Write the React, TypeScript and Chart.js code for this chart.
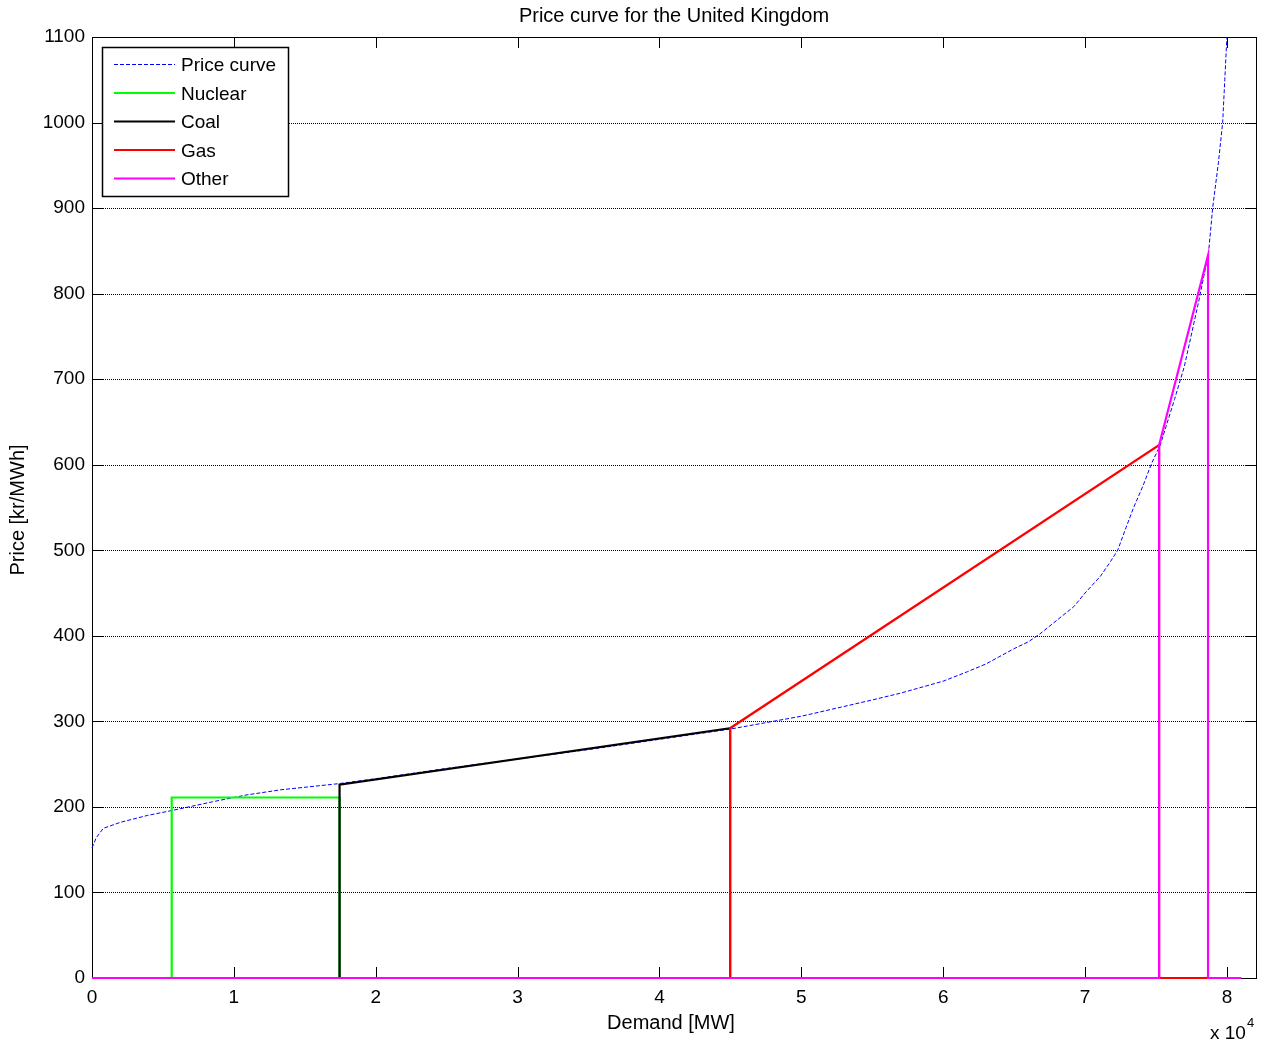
import React, { useEffect, useRef } from "react";
import { Chart, registerables } from "chart.js";

Chart.register(...registerables);

// ---- Data ----
const priceCurveX = [0, 300, 800, 2000, 3900, 5700, 8500, 10900, 13300, 17300, 20000, 25000, 30000, 35000, 40000, 45000, 50000, 55000, 57000, 60000, 61700, 63000, 64000, 65000, 66000, 66800, 68000, 69200, 70000, 71100, 71800, 72300, 72900, 73400, 74100, 74700, 75300, 76300, 77000, 78000, 78700, 79000, 79400, 79700, 79850, 80000, 80300];
const priceCurveY = [152, 164, 175, 182, 190, 196, 206, 214, 220, 227, 233, 245, 256, 267, 279, 291, 306, 325, 333, 347, 358, 367, 376, 385, 393, 402, 418, 434, 450, 470, 487, 500, 527, 549, 576, 602, 623, 676, 715, 790, 847, 901, 953, 1000, 1050, 1100, 1200];

const nuclearX = [0, 5620, 5620, 17450, 17450, 81000];
const nuclearY = [0, 0, 211, 211, 0, 0];
const coalX = [0, 17450, 17450, 44980, 44980, 81000];
const coalY = [0, 0, 226, 292, 0, 0];
const gasX = [0, 44980, 44980, 75220, 75220, 81000];
const gasY = [0, 0, 292, 623, 0, 0];
const otherX = [0, 75220, 75220, 78670, 78670, 81000];
const otherY = [0, 0, 623, 845, 0, 0];

const xTicks = [0, 10000, 20000, 30000, 40000, 50000, 60000, 70000, 80000];
const yTicks = [0, 100, 200, 300, 400, 500, 600, 700, 800, 900, 1000, 1100];

const legendLabels = ["Price curve", "Nuclear", "Coal", "Gas", "Other"];
const legendColors = ["#0000ff", "#00ff00", "#000000", "#ff0000", "#ff00ff"];

const FONT = "'Liberation Sans', Arial, Helvetica, sans-serif";

const toPts = (xs: number[], ys: number[]) => xs.map((x, i) => ({ x, y: ys[i] }));

const matlabPlugin = {
  id: "matlabDecor",
  beforeDatasetsDraw(chart: any) {
    const { ctx, chartArea, scales } = chart;
    const { left, right, top, bottom } = chartArea;
    const x = scales.x;
    const y = scales.y;
    const tickLen = 11;
    ctx.save();
    ctx.strokeStyle = "#000";
    ctx.lineWidth = 1;
    ctx.setLineDash([1, 1]);
    yTicks.forEach((v) => {
      const py = Math.round(y.getPixelForValue(v)) + 0.5;
      ctx.beginPath();
      ctx.moveTo(left + tickLen, py);
      ctx.lineTo(right - tickLen, py);
      ctx.stroke();
    });
    ctx.setLineDash([]);
    ctx.lineWidth = 1;
    ctx.strokeRect(Math.round(left) + 0.5, Math.round(top) + 0.5, Math.round(right - left), Math.round(bottom - top));
    ctx.beginPath();
    xTicks.forEach((v) => {
      const px = Math.round(x.getPixelForValue(v)) + 0.5;
      ctx.moveTo(px, bottom);
      ctx.lineTo(px, bottom - tickLen);
      ctx.moveTo(px, top);
      ctx.lineTo(px, top + tickLen);
    });
    yTicks.forEach((v) => {
      const py = Math.round(y.getPixelForValue(v)) + 0.5;
      ctx.moveTo(left, py);
      ctx.lineTo(left + tickLen, py);
      ctx.moveTo(right, py);
      ctx.lineTo(right - tickLen, py);
    });
    ctx.stroke();
    ctx.restore();
  },
  afterDatasetsDraw(chart: any) {
    const { ctx } = chart;
    ctx.save();
    const bx = 102.5, by = 47.5, bw = 186, bh = 149;
    ctx.fillStyle = "#fff";
    ctx.fillRect(bx, by, bw, bh);
    ctx.strokeStyle = "#000";
    ctx.lineWidth = 1.5;
    ctx.strokeRect(bx, by, bw, bh);
    const rows = [64.5, 93, 121.5, 150, 178.5];
    ctx.font = `19px ${FONT}`;
    ctx.textBaseline = "middle";
    ctx.textAlign = "left";
    legendLabels.forEach((lab, i) => {
      ctx.beginPath();
      ctx.strokeStyle = legendColors[i];
      if (i === 0) {
        ctx.lineWidth = 1;
        ctx.setLineDash([4, 2]);
      } else {
        ctx.lineWidth = 2.2;
        ctx.setLineDash([]);
      }
      ctx.moveTo(114, rows[i]);
      ctx.lineTo(175, rows[i]);
      ctx.stroke();
      ctx.setLineDash([]);
      ctx.fillStyle = "#000";
      ctx.fillText(lab, 181, rows[i] + 1.5);
    });
    ctx.fillStyle = "#000";
    ctx.font = `20px ${FONT}`;
    ctx.textAlign = "center";
    ctx.textBaseline = "alphabetic";
    ctx.fillText("Price curve for the United Kingdom", 674, 22);
    ctx.fillText("Demand [MW]", 671, 1029);
    ctx.save();
    ctx.translate(24, 510);
    ctx.rotate(-Math.PI / 2);
    ctx.fillText("Price [kr/MWh]", 0, 0);
    ctx.restore();
    ctx.textAlign = "left";
    ctx.font = `19px ${FONT}`;
    ctx.fillText("x 10", 1210, 1039);
    ctx.font = `13px ${FONT}`;
    ctx.fillText("4", 1247, 1027);
    ctx.restore();
  },
};

const fuelClip = { left: 2, top: 0, right: 2, bottom: 2 };

export default function App() {
  const ref = useRef<HTMLCanvasElement | null>(null);
  useEffect(() => {
    if (!ref.current) return;
    const chart = new Chart(ref.current, {
      type: "line",
      data: {
        datasets: [
          { label: "Price curve", data: toPts(priceCurveX, priceCurveY), borderColor: "#0000ff", borderWidth: 1, borderDash: [4, 2], pointRadius: 0, fill: false, tension: 0, order: 5, clip: { left: 1, top: 0, right: 1, bottom: 1 } },
          { label: "Nuclear", data: toPts(nuclearX, nuclearY), borderColor: "#00ff00", borderWidth: 2.2, pointRadius: 0, fill: false, tension: 0, order: 4, clip: fuelClip },
          { label: "Coal", data: toPts(coalX, coalY), borderColor: "#000000", borderWidth: 2.2, pointRadius: 0, fill: false, tension: 0, order: 3, clip: fuelClip },
          { label: "Gas", data: toPts(gasX, gasY), borderColor: "#ff0000", borderWidth: 2.2, pointRadius: 0, fill: false, tension: 0, order: 2, clip: fuelClip },
          { label: "Other", data: toPts(otherX, otherY), borderColor: "#ff00ff", borderWidth: 2.2, pointRadius: 0, fill: false, tension: 0, order: 1, clip: fuelClip },
        ],
      },
      options: {
        animation: false,
        responsive: false,
        maintainAspectRatio: false,
        layout: { padding: { top: 37, right: 8, left: 0, bottom: 0 } },
        plugins: { legend: { display: false }, title: { display: false }, tooltip: { enabled: false } },
        events: [],
        scales: {
          x: {
            type: "linear",
            min: 0,
            max: 82050,
            grid: { display: false, drawTicks: false },
            border: { display: false },
            afterBuildTicks: (s: any) => { s.ticks = xTicks.map((v) => ({ value: v })); },
            afterFit: (s: any) => { s.height = 66; },
            ticks: {
              autoSkip: false,
              maxRotation: 0,
              padding: 8,
              color: "#000",
              font: { family: FONT, size: 19 },
              callback: (v: any) => String(Number(v) / 10000),
            },
          },
          y: {
            type: "linear",
            min: 0,
            max: 1100,
            grid: { display: false, drawTicks: false },
            border: { display: false },
            afterBuildTicks: (s: any) => { s.ticks = yTicks.map((v) => ({ value: v })); },
            afterFit: (s: any) => { s.width = 92; },
            ticks: {
              autoSkip: false,
              padding: 7,
              color: "#000",
              font: { family: FONT, size: 19 },
              callback: (v: any) => String(v),
            },
          },
        },
      },
      plugins: [matlabPlugin],
    });
    return () => chart.destroy();
  }, []);
  return (
    <div style={{ position: "absolute", left: 0, top: 0, width: 1264, height: 1044, background: "#fff" }}>
      <canvas ref={ref} width={1264} height={1044} style={{ display: "block", width: 1264, height: 1044 }} />
    </div>
  );
}
